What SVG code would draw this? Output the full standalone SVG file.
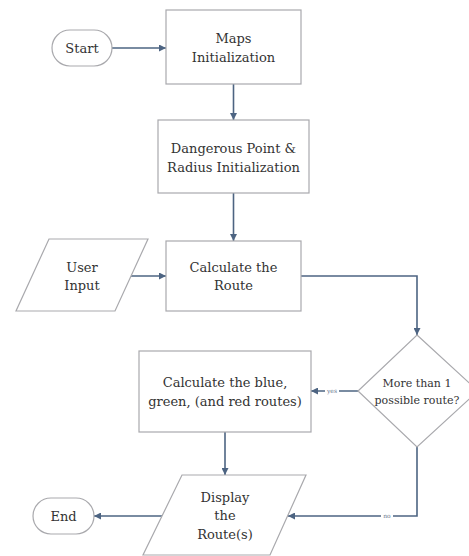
<svg xmlns="http://www.w3.org/2000/svg" width="469" height="556" viewBox="0 0 469 556">
<style>
.shape{fill:#ffffff;stroke:#a9a9ad;stroke-width:1.2}
.t{font-family:"DejaVu Serif","Liberation Serif",serif;font-size:13px;fill:#333333;text-anchor:middle}
.td{font-family:"DejaVu Serif","Liberation Serif",serif;font-size:11px;fill:#333333;text-anchor:middle}
.c{fill:none;stroke:#4d6482;stroke-width:1.6}
.lbl{font-family:"DejaVu Serif","Liberation Serif",serif;font-size:6px;fill:#6a7a90;text-anchor:middle}
</style>
<defs>
<marker id="ah" viewBox="0 0 10 10" refX="10" refY="5" markerWidth="7" markerHeight="7" markerUnits="userSpaceOnUse" orient="auto">
<path d="M0,0 L10,5 L0,10 z" fill="#4d6482"/>
</marker>
</defs>
<rect width="469" height="556" fill="#ffffff"/>
<g id="connectors">
<path class="c" d="M112,48 H166" marker-end="url(#ah)"/>
<path class="c" d="M233.5,84 V120" marker-end="url(#ah)"/>
<path class="c" d="M233.5,193 V241" marker-end="url(#ah)"/>
<path class="c" d="M131,276 H166" marker-end="url(#ah)"/>
<path class="c" d="M301,276 H417 V335" marker-end="url(#ah)"/>
<path class="c" d="M358,391 H311" marker-end="url(#ah)"/>
<path class="c" d="M225,432 V475" marker-end="url(#ah)"/>
<path class="c" d="M162,516 H94" marker-end="url(#ah)"/>
<path class="c" d="M417,447 V516 H288" marker-end="url(#ah)"/>
<rect x="325" y="387" width="14" height="8" fill="#ffffff"/>
<text class="lbl" x="332" y="393">yes</text>
<rect x="381" y="512" width="12" height="8" fill="#ffffff"/>
<text class="lbl" x="387" y="518">no</text>
</g>
<g id="start">
<rect class="shape" x="52" y="30" width="60" height="36" rx="18"/>
<text class="t" x="82" y="52.5">Start</text>
</g>
<g id="maps">
<rect class="shape" x="166" y="10" width="135" height="74"/>
<text class="t" x="233.5" y="43">Maps</text>
<text class="t" x="233.5" y="62">Initialization</text>
</g>
<g id="dangerous">
<rect class="shape" x="158" y="120" width="151" height="73"/>
<text class="t" x="233.5" y="153">Dangerous Point &amp;</text>
<text class="t" x="233.5" y="172">Radius Initialization</text>
</g>
<g id="userinput">
<polygon class="shape" points="49,239 148,239 115,311 16,311"/>
<text class="t" x="82" y="272">User</text>
<text class="t" x="82" y="290">Input</text>
</g>
<g id="calcroute">
<rect class="shape" x="166" y="241" width="135" height="70"/>
<text class="t" x="233.5" y="272">Calculate the</text>
<text class="t" x="233.5" y="290">Route</text>
</g>
<g id="decision">
<polygon class="shape" points="417,335 478,391 417,447 358,391"/>
<text class="td" x="417" y="387">More than 1</text>
<text class="td" x="417" y="404">possible route?</text>
</g>
<g id="calcblue">
<rect class="shape" x="139" y="351" width="172" height="81"/>
<text class="t" x="225" y="387">Calculate the blue,</text>
<text class="t" x="225" y="406">green, (and red routes)</text>
</g>
<g id="display">
<polygon class="shape" points="182,475 306,475 270,555 143,555"/>
<text class="t" x="225" y="502">Display</text>
<text class="t" x="225" y="520">the</text>
<text class="t" x="225" y="539">Route(s)</text>
</g>
<g id="end">
<rect class="shape" x="33" y="498" width="61" height="36" rx="18"/>
<text class="t" x="63.5" y="521">End</text>
</g>
</svg>
